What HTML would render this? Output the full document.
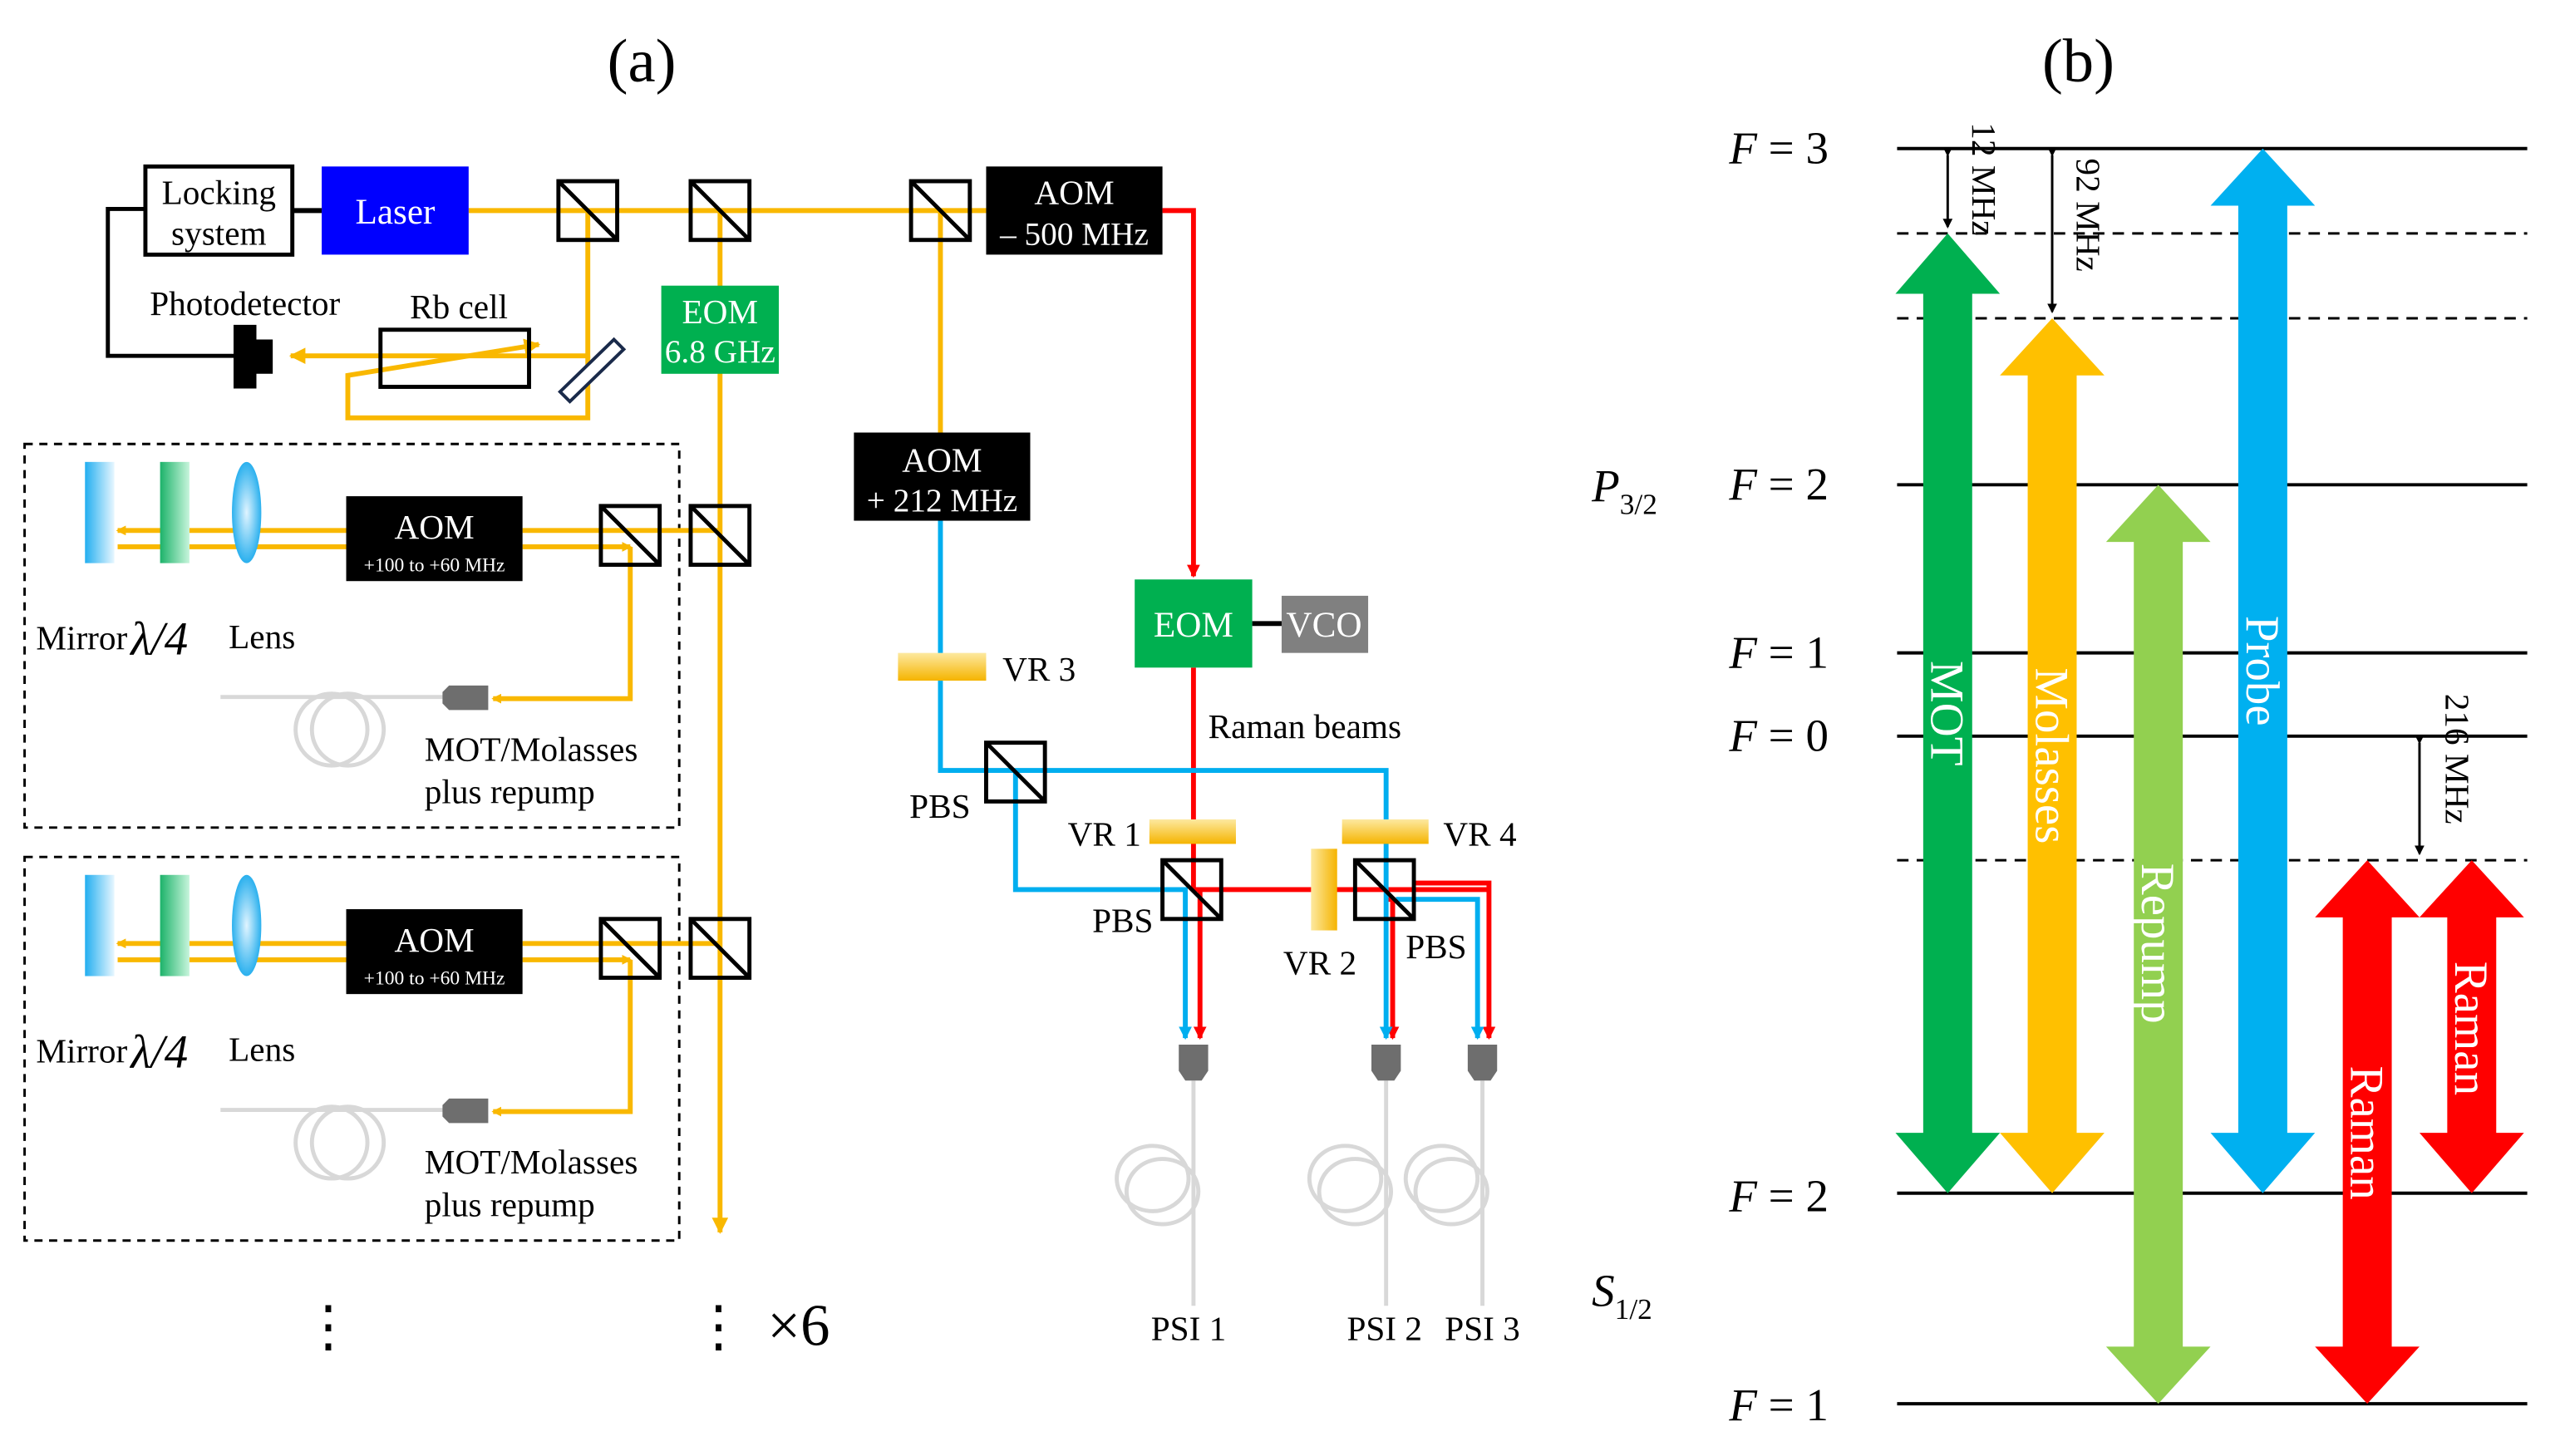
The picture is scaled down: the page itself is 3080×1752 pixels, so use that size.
<!DOCTYPE html>
<html><head><meta charset="utf-8"><style>html,body{margin:0;padding:0;background:#fff}svg{display:block}</style></head><body>
<svg width="3080" height="1752" viewBox="0 0 1568 892" xmlns="http://www.w3.org/2000/svg" font-family="Liberation Serif, serif">
<defs>
<linearGradient id="vr" x1="0" y1="0" x2="0" y2="1"><stop offset="0" stop-color="#fde9a0"/><stop offset="1" stop-color="#f5b400"/></linearGradient>
<linearGradient id="vr2" x1="0" y1="0" x2="1" y2="0"><stop offset="0" stop-color="#fde9a0"/><stop offset="1" stop-color="#f5b400"/></linearGradient>
<linearGradient id="mir" x1="0" y1="0" x2="1" y2="0"><stop offset="0" stop-color="#22aef0"/><stop offset="1" stop-color="#e8f7ff"/></linearGradient>
<linearGradient id="qw" x1="0" y1="0" x2="1" y2="0"><stop offset="0" stop-color="#1db36a"/><stop offset="1" stop-color="#c8f5dc"/></linearGradient>
<radialGradient id="lens"><stop offset="0" stop-color="#e0f4ff"/><stop offset="1" stop-color="#2ab0ee"/></radialGradient>
<marker id="ay" markerWidth="6" markerHeight="6" refX="5" refY="3" orient="auto" markerUnits="userSpaceOnUse" viewBox="0 0 6 6"><path d="M0,0L6,3L0,6z" fill="#f9b800"/></marker>
<marker id="ar" markerWidth="8" markerHeight="8" refX="7" refY="4" orient="auto" markerUnits="userSpaceOnUse" viewBox="0 0 8 8"><path d="M0,0L8,4L0,8z" fill="#f00"/></marker>
<marker id="ab" markerWidth="8" markerHeight="8" refX="7" refY="4" orient="auto" markerUnits="userSpaceOnUse" viewBox="0 0 8 8"><path d="M0,0L8,4L0,8z" fill="#00aeef"/></marker>
<marker id="ak" markerWidth="6" markerHeight="6" refX="5" refY="3" orient="auto" markerUnits="userSpaceOnUse" viewBox="0 0 6 6"><path d="M0,0L6,3L0,6z" fill="#000"/></marker>
<marker id="ay2" markerWidth="10" markerHeight="10" refX="9" refY="5" orient="auto" markerUnits="userSpaceOnUse" viewBox="0 0 10 10"><path d="M0,0L10,5L0,10z" fill="#f9b800"/></marker>
</defs>
<text x="393" y="50" font-size="38" text-anchor="middle">(a)</text>
<text x="1273" y="50" font-size="38" text-anchor="middle">(b)</text>

<g stroke="#f9b800" stroke-width="3" fill="none">
<line x1="287" y1="129" x2="604" y2="129"/>
<polyline points="360,129 360,218 178,218" marker-end="url(#ay2)"/>
<polyline points="360,218 360,256 213,256 213,230 330,211" marker-end="url(#ay2)"/>
<line x1="441" y1="129" x2="441" y2="755" marker-end="url(#ay2)"/>
<line x1="576" y1="129" x2="576" y2="265"/>
</g>
<path d="M343,240 L376,208 L382,214 L349,246 Z" fill="#fff" stroke="#1a2a4a" stroke-width="2"/>
<rect x="233" y="202" width="91" height="35" fill="none" stroke="#000" stroke-width="2.5"/>
<text x="281" y="195" font-size="21" text-anchor="middle">Rb cell</text>
<text x="150" y="193" font-size="21" text-anchor="middle">Photodetector</text>
<path d="M143,199h14v9h10v21h-10v9h-14z" fill="#000"/>
<polyline points="88,128 66,128 66,218 143,218" fill="none" stroke="#000" stroke-width="2.5"/>
<rect x="89" y="102" width="90" height="54" fill="#fff" stroke="#000" stroke-width="2.5"/>
<text x="134" y="125" font-size="21" text-anchor="middle">Locking</text>
<text x="134" y="150" font-size="21" text-anchor="middle">system</text>
<line x1="179" y1="129" x2="197" y2="129" stroke="#000" stroke-width="3"/>
<rect x="197" y="102" width="90" height="54" fill="#0000ff"/>
<text x="242" y="137" font-size="22" text-anchor="middle" fill="#fff">Laser</text>
<g fill="none" stroke="#000" stroke-width="2.5">
<rect x="342" y="111" width="36" height="36"/><line x1="342" y1="111" x2="378" y2="147"/>
<rect x="423" y="111" width="36" height="36"/><line x1="423" y1="111" x2="459" y2="147"/>
<rect x="558" y="111" width="36" height="36"/><line x1="558" y1="111" x2="594" y2="147"/>
</g>
<rect x="405" y="175" width="72" height="54" fill="#00b050"/>
<text x="441" y="198" font-size="21" text-anchor="middle" fill="#fff">EOM</text>
<text x="441" y="222" font-size="20" text-anchor="middle" fill="#fff">6.8 GHz</text>
<rect x="604" y="102" width="108" height="54" fill="#000"/>
<text x="658" y="125" font-size="21" text-anchor="middle" fill="#fff">AOM</text>
<text x="658" y="150" font-size="20" text-anchor="middle" fill="#fff">– 500  MHz</text>

<g stroke="#f00" stroke-width="3" fill="none">
<polyline points="712,129 731,129 731,353" marker-end="url(#ar)"/>
<line x1="731" y1="409" x2="731" y2="545"/>
<line x1="731" y1="545" x2="912" y2="545"/>
<line x1="735" y1="545" x2="735" y2="636" marker-end="url(#ar)"/>
<polyline points="848,551 853,551 853,636" marker-end="url(#ar)"/>
<polyline points="866,541 912,541 912,636" marker-end="url(#ar)"/>
</g>
<g stroke="#00aeef" stroke-width="3" fill="none">
<polyline points="576,319 576,472 849,472 849,636" marker-end="url(#ab)"/>
<polyline points="622,472 622,545 726,545 726,636" marker-end="url(#ab)"/>
<polyline points="855,551 905,551 905,636" marker-end="url(#ab)"/>
</g>
<rect x="523" y="265" width="108" height="54" fill="#000"/>
<text x="577" y="289" font-size="21" text-anchor="middle" fill="#fff">AOM</text>
<text x="577" y="313" font-size="20" text-anchor="middle" fill="#fff">+ 212 MHz</text>
<rect x="550" y="400" width="54" height="17" fill="url(#vr)"/>
<text x="614" y="417" font-size="21">VR 3</text>
<rect x="695" y="355" width="72" height="54" fill="#00b050"/>
<text x="731" y="390" font-size="22" text-anchor="middle" fill="#fff">EOM</text>
<line x1="767" y1="382" x2="785" y2="382" stroke="#000" stroke-width="3"/>
<rect x="785" y="365" width="53" height="35" fill="#808080"/>
<text x="811" y="390" font-size="22" text-anchor="middle" fill="#fff">VCO</text>
<text x="740" y="452" font-size="21">Raman beams</text>
<g fill="none" stroke="#000" stroke-width="2.5">
<rect x="604" y="455" width="36" height="36"/><line x1="604" y1="455" x2="640" y2="491"/>
<rect x="712" y="527" width="36" height="36"/><line x1="712" y1="527" x2="748" y2="563"/>
<rect x="830" y="527" width="36" height="36"/><line x1="830" y1="527" x2="866" y2="563"/>
</g>
<text x="557" y="501" font-size="21">PBS</text>
<text x="669" y="571" font-size="21">PBS</text>
<text x="861" y="587" font-size="21">PBS</text>
<rect x="704" y="502" width="53" height="15" fill="url(#vr)"/>
<text x="654" y="518" font-size="21">VR 1</text>
<rect x="822" y="502" width="53" height="15" fill="url(#vr)"/>
<text x="884" y="518" font-size="21">VR 4</text>
<rect x="803" y="520" width="16" height="50" fill="url(#vr2)"/>
<text x="786" y="597" font-size="21">VR 2</text>
<g fill="none" stroke="#d8d8d8" stroke-width="2.5">
<line x1="731" y1="662" x2="731" y2="800"/><line x1="849" y1="662" x2="849" y2="800"/><line x1="908" y1="662" x2="908" y2="800"/>
<ellipse cx="706" cy="722" rx="22" ry="20"/><ellipse cx="712" cy="730" rx="22" ry="20"/>
<ellipse cx="824" cy="722" rx="22" ry="20"/><ellipse cx="830" cy="730" rx="22" ry="20"/>
<ellipse cx="883" cy="722" rx="22" ry="20"/><ellipse cx="889" cy="730" rx="22" ry="20"/>
</g>
<g fill="#6e6e6e">
<path d="M722,640h18v16l-4,6h-10l-4,-6z"/><path d="M840,640h18v16l-4,6h-10l-4,-6z"/><path d="M899,640h18v16l-4,6h-10l-4,-6z"/>
</g>
<text x="728" y="821" font-size="21" text-anchor="middle">PSI 1</text>
<text x="848" y="821" font-size="21" text-anchor="middle">PSI 2</text>
<text x="908" y="821" font-size="21" text-anchor="middle">PSI 3</text>

<g id="mod">
<rect x="15" y="272" width="401" height="235" fill="none" stroke="#000" stroke-width="1.5" stroke-dasharray="5,4"/>
<g stroke="#f9b800" stroke-width="3" fill="none">
<line x1="212" y1="325" x2="72" y2="325" marker-end="url(#ay)"/>
<line x1="72" y1="335" x2="212" y2="335"/>
<line x1="320" y1="325" x2="441" y2="325"/>
<line x1="320" y1="335" x2="386" y2="335" marker-end="url(#ay)"/>
<polyline points="386,335 386,428 302,428" marker-end="url(#ay)"/>
</g>
<rect x="52" y="283" width="18" height="62" fill="url(#mir)"/>
<rect x="98" y="283" width="18" height="62" fill="url(#qw)"/>
<ellipse cx="151" cy="314" rx="9" ry="31" fill="url(#lens)"/>
<rect x="212" y="304" width="108" height="52" fill="#000"/>
<text x="266" y="330" font-size="21" text-anchor="middle" fill="#fff">AOM</text>
<text x="266" y="350" font-size="12" text-anchor="middle" fill="#fff">+100 to +60 MHz</text>
<g fill="none" stroke="#000" stroke-width="2.5">
<rect x="368" y="310" width="36" height="36"/><line x1="368" y1="310" x2="404" y2="346"/>
<rect x="423" y="310" width="36" height="36"/><line x1="423" y1="310" x2="459" y2="346"/>
</g>
<line x1="135" y1="427" x2="275" y2="427" stroke="#d8d8d8" stroke-width="2.5"/>
<circle cx="203" cy="447" r="22" fill="none" stroke="#d8d8d8" stroke-width="2.5"/>
<circle cx="213" cy="447" r="22" fill="none" stroke="#d8d8d8" stroke-width="2.5"/>
<path d="M275,420h24v15h-24l-4,-4v-7z" fill="#6e6e6e"/>
<text x="22" y="398" font-size="21">Mirror</text>
<text x="80" y="401" font-size="29" font-style="italic">λ/4</text>
<text x="140" y="397" font-size="21">Lens</text>
<text x="260" y="466" font-size="21">MOT/Molasses</text>
<text x="260" y="492" font-size="21">plus repump</text>
</g>
<use href="#mod" transform="translate(0,253)"/>
<text x="201" y="824" font-size="34" text-anchor="middle">⋮</text>
<text x="440" y="824" font-size="34" text-anchor="middle">⋮</text>
<text x="470" y="824" font-size="36">×6</text>

<g stroke="#000" stroke-width="2">
<line x1="1162" y1="91" x2="1548" y2="91"/><line x1="1162" y1="297" x2="1548" y2="297"/>
<line x1="1162" y1="400" x2="1548" y2="400"/><line x1="1162" y1="451" x2="1548" y2="451"/>
<line x1="1162" y1="731" x2="1548" y2="731"/><line x1="1162" y1="860" x2="1548" y2="860"/>
</g>
<g stroke="#000" stroke-width="1.5" stroke-dasharray="7,5">
<line x1="1162" y1="143" x2="1548" y2="143"/><line x1="1162" y1="195" x2="1548" y2="195"/><line x1="1162" y1="527" x2="1548" y2="527"/>
</g>
<g font-size="28" text-anchor="end">
<text x="1120" y="100"><tspan font-style="italic">F</tspan> = 3</text>
<text x="1120" y="306"><tspan font-style="italic">F</tspan> = 2</text>
<text x="1120" y="409"><tspan font-style="italic">F</tspan> = 1</text>
<text x="1120" y="460"><tspan font-style="italic">F</tspan> = 0</text>
<text x="1120" y="742"><tspan font-style="italic">F</tspan> = 2</text>
<text x="1120" y="870"><tspan font-style="italic">F</tspan> = 1</text>
</g>
<text x="975" y="307" font-size="28" font-style="italic">P<tspan font-size="18" dy="8" font-style="normal">3/2</tspan></text>
<text x="975" y="800" font-size="28" font-style="italic">S<tspan font-size="18" dy="8" font-style="normal">1/2</tspan></text>
<g>
<path d="M1193,143 L1225,180 L1208,180 L1208,694 L1225,694 L1193,731 L1161,694 L1178,694 L1178,180 L1161,180Z" fill="#00b050"/>
<path d="M1257,195 L1289,230 L1272,230 L1272,694 L1289,694 L1257,731 L1225,694 L1242,694 L1242,230 L1225,230Z" fill="#ffc000"/>
<path d="M1322,297 L1354,332 L1337,332 L1337,825 L1354,825 L1322,860 L1290,825 L1307,825 L1307,332 L1290,332Z" fill="#92d050"/>
<path d="M1386,91 L1418,126 L1401,126 L1401,694 L1418,694 L1386,731 L1354,694 L1371,694 L1371,126 L1354,126Z" fill="#00b0f0"/>
<path d="M1450,527 L1482,562 L1465,562 L1465,825 L1482,825 L1450,860 L1418,825 L1435,825 L1435,562 L1418,562Z" fill="#ff0000"/>
<path d="M1514,527 L1546,562 L1529,562 L1529,694 L1546,694 L1514,731 L1482,694 L1499,694 L1499,562 L1482,562Z" fill="#ff0000"/>
</g>
<g font-size="29" fill="#fff">
<text transform="translate(1183,437) rotate(90)" text-anchor="middle">MOT</text>
<text transform="translate(1247,463) rotate(90)" text-anchor="middle">Molasses</text>
<text transform="translate(1312,578) rotate(90)" text-anchor="middle">Repump</text>
<text transform="translate(1376,411) rotate(90)" text-anchor="middle">Probe</text>
<text transform="translate(1440,694) rotate(90)" text-anchor="middle">Raman</text>
<text transform="translate(1504,630) rotate(90)" text-anchor="middle">Raman</text>
</g>
<g stroke="#000" stroke-width="1.5">
<line x1="1193" y1="95" x2="1193" y2="139" marker-end="url(#ak)" marker-start="url(#ak)"/>
<line x1="1257" y1="95" x2="1257" y2="191" marker-end="url(#ak)" marker-start="url(#ak)"/>
<line x1="1482" y1="455" x2="1482" y2="523" marker-end="url(#ak)" marker-start="url(#ak)"/>
</g>
<g font-size="21">
<text transform="translate(1208,75) rotate(90)">12 MHz</text>
<text transform="translate(1272,97) rotate(90)">92 MHz</text>
<text transform="translate(1498,425) rotate(90)">216 MHz</text>
</g>
</svg>
</body></html>
